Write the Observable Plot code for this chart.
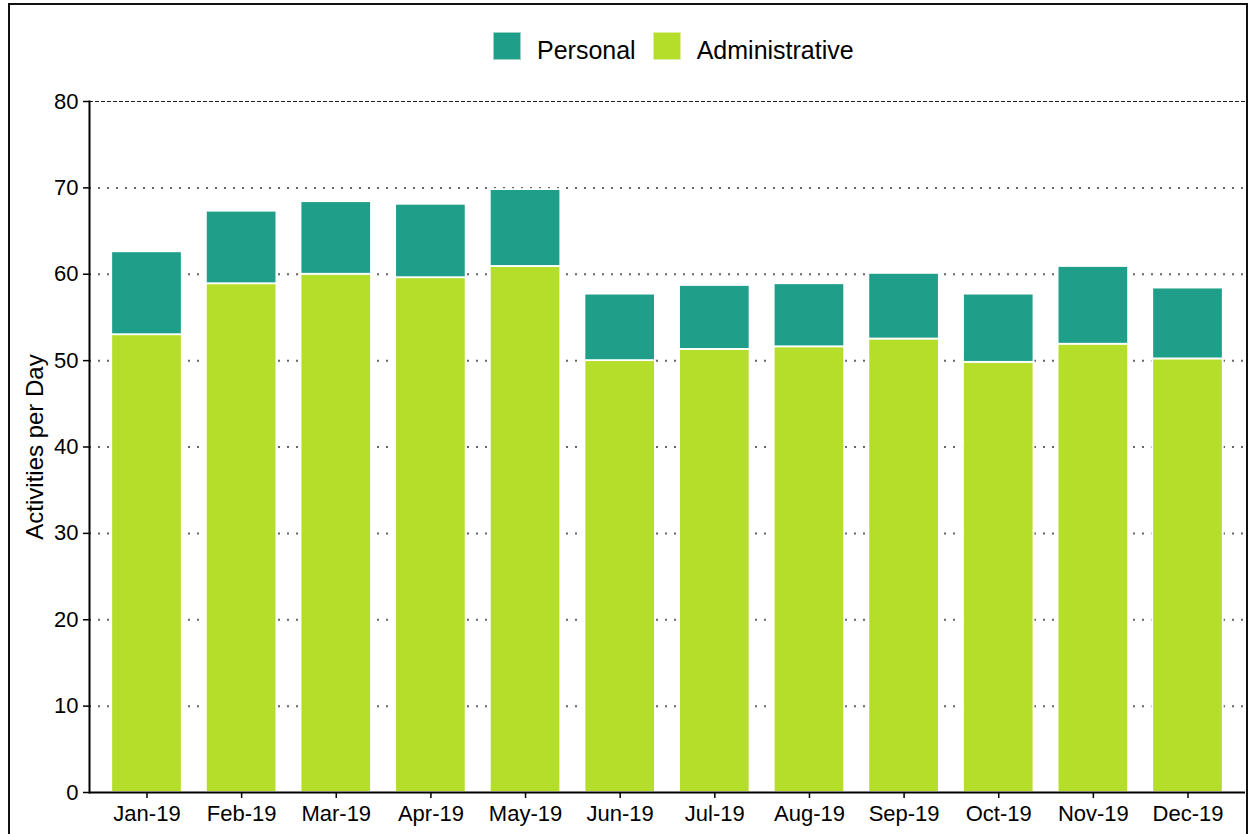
<!DOCTYPE html>
<html>
<head>
<meta charset="utf-8">
<script src="https://cdn.jsdelivr.net/npm/d3@7"></script>
<script src="https://cdn.jsdelivr.net/npm/@observablehq/plot@0.6"></script>
<style>
  body { margin: 0; background: #fff; font-family: "Liberation Sans", Arial, sans-serif; }
  #wrap { position: relative; width: 1257px; height: 834px; overflow: hidden; }
  #frame { position: absolute; left: 8px; top: 3px; width: 1240px; height: 900px; border: 2px solid #111; box-sizing: border-box; pointer-events: none; }
  #legend { position: relative; height: 80px; }
  #legend .items { position: absolute; left: 493px; top: 32px; display: flex; align-items: center; height: 28px; }
  #legend .sw { width: 28px; height: 28px; box-sizing: border-box; border: 1px solid rgba(255,255,255,0.55); margin-right: 16px; }
  #legend .lb { font-size: 25px; line-height: 25px; color: #000; padding-top: 8px; margin-right: 17px; }
</style>
</head>
<body>
<div id="wrap">
  <div id="legend"><div class="items"></div></div>
  <div id="chart"></div>
  <div id="frame"></div>
</div>
<script>
const months = ["Jan-19","Feb-19","Mar-19","Apr-19","May-19","Jun-19","Jul-19","Aug-19","Sep-19","Oct-19","Nov-19","Dec-19"];
const administrative = [53.0, 58.9, 60.0, 59.6, 60.9, 50.0, 51.3, 51.6, 52.5, 49.8, 51.9, 50.2];
const personal = [9.6, 8.4, 8.4, 8.5, 8.9, 7.7, 7.4, 7.3, 7.6, 7.9, 9.0, 8.2];
const seriesNames = ["Personal", "Administrative"];
const seriesColors = ["#1F9E89", "#B5DE2B"];
const yTicks = [0, 10, 20, 30, 40, 50, 60, 70, 80];
const gridTicks = [10, 20, 30, 40, 50, 60, 70];
const yLabel = "Activities per Day";

const data = months.flatMap((m, i) => [
  {month: m, series: "Administrative", value: administrative[i]},
  {month: m, series: "Personal", value: personal[i]}
]);

// Legend
const items = document.querySelector("#legend .items");
seriesNames.forEach((name, i) => {
  const sw = document.createElement("div");
  sw.className = "sw";
  sw.style.background = seriesColors[i];
  const lb = document.createElement("div");
  lb.className = "lb";
  lb.textContent = name;
  items.appendChild(sw);
  items.appendChild(lb);
});

const chart = Plot.plot({
  width: 1257,
  height: 754,
  marginTop: 21,
  marginBottom: 42,
  marginLeft: 89,
  marginRight: 12,
  style: {fontFamily: "Liberation Sans, Arial, sans-serif", fontSize: "22px", color: "#000", background: "transparent", overflow: "visible"},
  x: {domain: months, paddingInner: 0.255, paddingOuter: 0.235, round: false, label: null},
  y: {domain: [0, 80], label: null},
  color: {domain: seriesNames, range: seriesColors},
  marks: [
    Plot.ruleY(gridTicks, {stroke: "#666", strokeWidth: 2, strokeDasharray: "2,7"}),
    Plot.ruleY([80], {stroke: "#222", strokeWidth: 1.2, strokeDasharray: "4,2"}),
    Plot.barY(data, {x: "month", y: "value", fill: "series", order: ["Administrative", "Personal"], stroke: "white", strokeWidth: 1.8}),
    Plot.axisY({ticks: yTicks, tickSize: 6, tickPadding: 5, fontSize: 22, strokeWidth: 1.5, label: null}),
    Plot.axisX({tickSize: 6, tickPadding: 7, fontSize: 22, strokeWidth: 1.5, label: null}),
    Plot.ruleY([0], {stroke: "#000", strokeWidth: 2}),
    Plot.frame({anchor: "left", stroke: "#000", strokeWidth: 2}),
    Plot.text([yLabel], {frameAnchor: "left", dx: -54, rotate: -90, textAnchor: "middle", fontSize: 24, fill: "#000"})
  ]
});
document.getElementById("chart").appendChild(chart);
</script>
</body>
</html>
